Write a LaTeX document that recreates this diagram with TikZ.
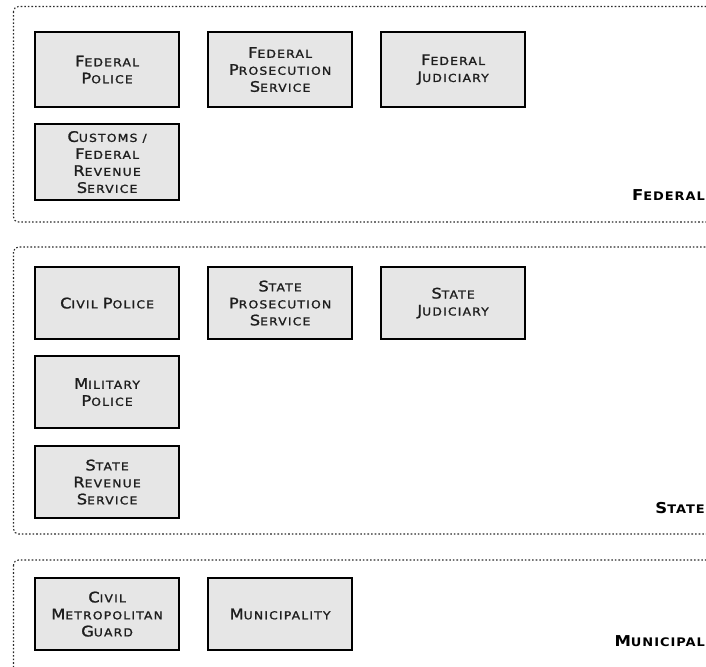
\documentclass[tikz,border=0pt]{standalone}
\usepackage{fontspec}
\newfontfamily\capfont[LetterSpace=11,FakeStretch=1.12,FakeBold=1.4]{DejaVu Sans}
\newfontfamily\capfontb[LetterSpace=8,FakeStretch=1.1]{DejaVu Sans Bold}
\newcommand\Bg[1]{{\fontsize{14.5}{17}\selectfont #1}}
\newcommand\Bb[1]{{\fontsize{15}{17}\selectfont #1}}
\definecolor{boxfill}{HTML}{E6E6E6}
\definecolor{txt}{HTML}{1E1E1E}
\definecolor{panelline}{HTML}{2A2A2A}
\tikzset{
  agency/.style={draw=black, line width=2.2pt, fill=boxfill, minimum width=144pt, minimum height=#1, inner sep=0pt, align=center, text=txt,
    font=\capfont\fontsize{11}{17}\selectfont, anchor=north west},
  agency/.default=75pt,
  panel/.style={draw=panelline, line width=1.1pt, dash pattern=on 1.6pt off 2pt, rounded corners=5pt},
  level/.style={anchor=base east, font=\capfontb\fontsize{11.8}{12}\selectfont, text=black, inner sep=0pt}
}
\begin{document}
\begin{tikzpicture}[x=1pt,y=-1pt]
\useasboundingbox (0,0) rectangle (706,666);
\clip (0,0) rectangle (706,666);
% panels
\draw[panel] (13.5,6.5) rectangle (730,222);
\draw[panel] (13.5,247) rectangle (730,534);
\draw[panel] (13.5,560) rectangle (730,700);
% federal
\node[agency] (fp) at (34,31) {\Bg{F}EDERAL\\\Bg{P}OLICE};
\node[agency] (fps) at (207,31) {\Bg{F}EDERAL\\\Bg{P}ROSECUTION\\\Bg{S}ERVICE};
\node[agency] (fj) at (380,31) {\Bg{F}EDERAL\\\Bg{J}UDICIARY};
\node[agency=76pt] (cus) at (34,123) {\Bg{C}USTOMS /\\\Bg{F}EDERAL\\\Bg{R}EVENUE\\\Bg{S}ERVICE};
\node[level] (lfed) at (705,200) {\Bb{F}EDERAL};
% state
\node[agency=72pt] (cp) at (34,266) {\Bg{C}IVIL \Bg{P}OLICE};
\node[agency=72pt] (sps) at (207,266) {\Bg{S}TATE\\\Bg{P}ROSECUTION\\\Bg{S}ERVICE};
\node[agency=72pt] (sj) at (380,266) {\Bg{S}TATE\\\Bg{J}UDICIARY};
\node[agency=72pt] (mp) at (34,355) {\Bg{M}ILITARY\\\Bg{P}OLICE};
\node[agency=72pt] (srs) at (34,445) {\Bg{S}TATE\\\Bg{R}EVENUE\\\Bg{S}ERVICE};
\node[level] (lsta) at (705,513) {\Bb{S}TATE};
% municipal
\node[agency=72pt] (cmg) at (34,577) {\Bg{C}IVIL\\\Bg{M}ETROPOLITAN\\\Bg{G}UARD};
\node[agency=72pt] (mun) at (207,577) {\Bg{M}UNICIPALITY};
\node[level] (lmun) at (705,646) {\Bb{M}UNICIPAL};
\end{tikzpicture}
\end{document}
